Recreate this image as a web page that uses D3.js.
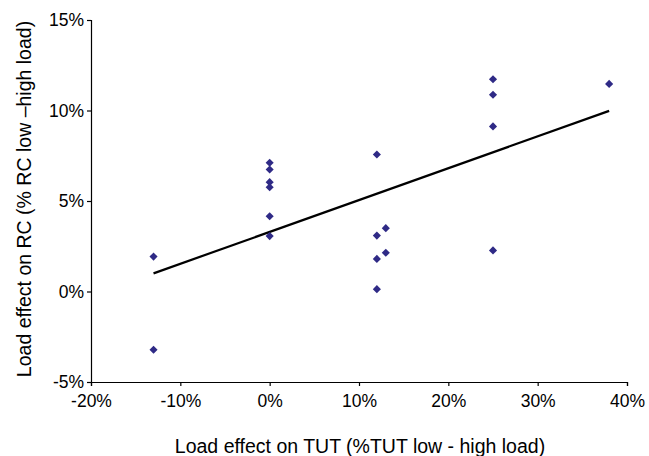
<!DOCTYPE html>
<html>
<head>
<meta charset="utf-8">
<script src="https://cdn.jsdelivr.net/npm/d3@7"></script>
<style>
	body { margin: 0; background: #fff; }
	text { font-family: "Liberation Sans", Arial, sans-serif; fill: #000; }
</style>
</head>
<body>
<div id="chart"></div>
<script>
var svgWidth = 649;
var svgHeight = 456;

// load effect on TUT (fraction), one entry per point
var tutEffect = [-0.13, -0.13, 0, 0, 0, 0, 0, 0, 0.12, 0.12, 0.12, 0.12, 0.13, 0.13, 0.25, 0.25, 0.25, 0.25, 0.38];
// load effect on RC (fraction)
var rcEffect = [0.0193, -0.0322, 0.0711, 0.0674, 0.0604, 0.0576, 0.0416, 0.0306, 0.0757, 0.0309, 0.0180, 0.0013, 0.0350, 0.0214, 0.1173, 0.1087, 0.0912, 0.0227, 0.1147];

var xTicks = [-0.2, -0.1, 0, 0.1, 0.2, 0.3, 0.4];
var yTicks = [-0.05, 0, 0.05, 0.1, 0.15];

var margin = { top: 20, bottom: 74, right: 22, left: 91 };
var width = svgWidth - margin.left - margin.right;
var height = svgHeight - margin.top - margin.bottom;

var svg = d3.select("#chart")
	.append("svg")
	.attr("width", svgWidth)
	.attr("height", svgHeight);

var chartGroup = svg.append("g")
	.attr("transform", `translate(${margin.left}, ${margin.top})`);

var xScale = d3.scaleLinear().domain([-0.2, 0.4]).range([0, width]);
var yScale = d3.scaleLinear().domain([-0.05, 0.15]).range([height, 0]);

// plain hyphen for negatives, like the original
var pct = d => Math.round(d * 100) + "%";

var xAxis = chartGroup.append("g")
	.attr("transform", `translate(0, ${height})`)
	.call(d3.axisBottom(xScale).tickValues(xTicks).tickFormat(pct).tickSize(4).tickSizeOuter(4).tickPadding(9));

var yAxis = chartGroup.append("g")
	.call(d3.axisLeft(yScale).tickValues(yTicks).tickFormat(pct).tickSize(4).tickSizeOuter(4).tickPadding(3));

chartGroup.selectAll(".tick text")
	.style("font-size", "17.5px")
	.style("font-family", "'Liberation Sans', Arial, sans-serif");
chartGroup.selectAll(".domain, .tick line").attr("stroke", "#000").attr("stroke-width", 1.2);

// linear trend line (least squares)
var pts = tutEffect.map((x, i) => [x, rcEffect[i]]);
var mx = d3.mean(tutEffect), my = d3.mean(rcEffect);
var slope = d3.sum(pts, p => (p[0] - mx) * (p[1] - my)) / d3.sum(pts, p => (p[0] - mx) * (p[0] - mx));
var intercept = my - slope * mx;
var xExt = d3.extent(tutEffect);

chartGroup.append("line")
	.attr("x1", xScale(xExt[0]))
	.attr("y1", yScale(intercept + slope * xExt[0]))
	.attr("x2", xScale(xExt[1]))
	.attr("y2", yScale(intercept + slope * xExt[1]))
	.attr("stroke", "#000")
	.attr("stroke-width", 2.2);

chartGroup.selectAll(".pt")
	.data(pts)
	.enter()
	.append("path")
	.attr("class", "pt")
	.attr("d", d3.symbol().type(d3.symbolDiamond2).size(42))
	.attr("transform", d => `translate(${xScale(d[0])}, ${yScale(d[1])})`)
	.attr("fill", "#2f2a86");

svg.append("text")
	.attr("x", 360)
	.attr("y", 453)
	.attr("text-anchor", "middle")
	.style("font-size", "19.5px")
	.text("Load effect on TUT (%TUT low - high load)");

svg.append("text")
	.attr("transform", "translate(31, 199) rotate(-90)")
	.attr("text-anchor", "middle")
	.style("font-size", "19.5px")
	.text("Load effect on RC (% RC low \u2013high load)");
</script>
</body>
</html>
